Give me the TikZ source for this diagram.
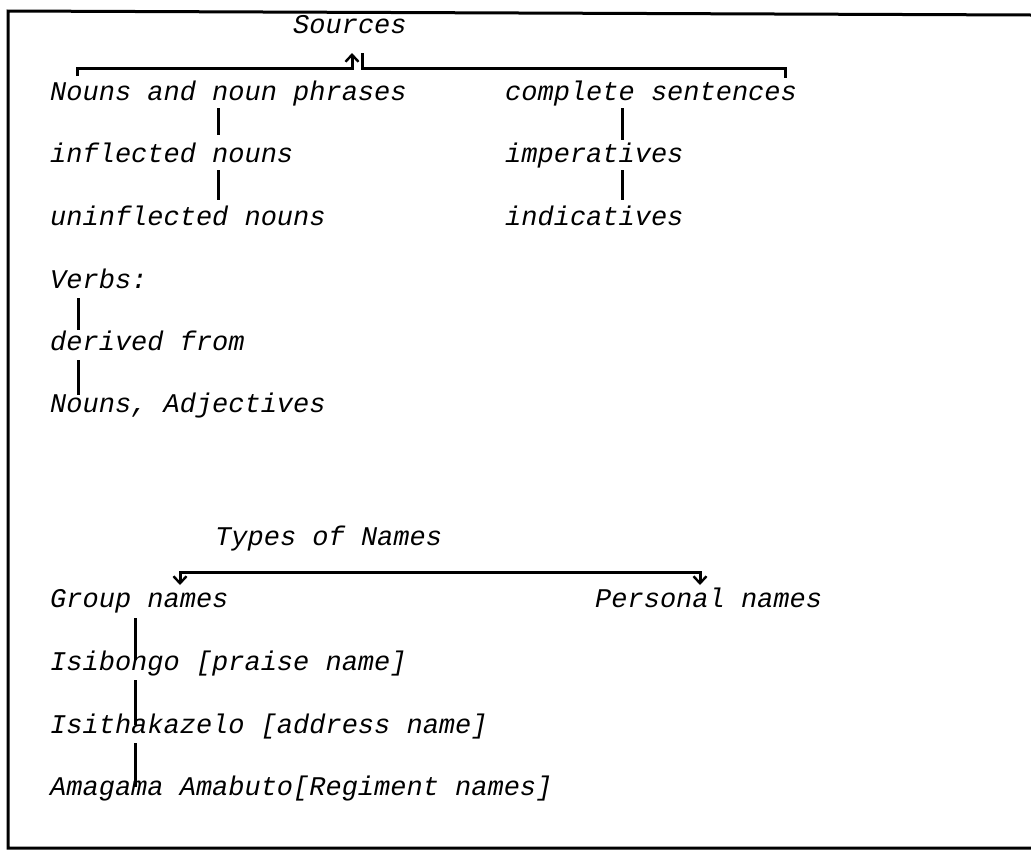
\documentclass[tikz,border=0pt]{standalone}
\usepackage{fontspec}
\setmonofont{Liberation Mono}
\usetikzlibrary{arrows.meta,calc}
\begin{document}
\begin{tikzpicture}[x=1pt,y=-1pt,
  txt/.style={anchor=base west,inner sep=0pt,font=\fontsize{27}{32}\selectfont\ttfamily\itshape},
  conn/.style={line width=3pt},
  frame/.style={line width=3pt},
  barb/.tip={Straight Barb[length=7pt,width=13pt,line width=2.4pt]},
  tip/.style={-barb}]
\useasboundingbox (0,0) rectangle (1031,852);
% frame
\draw[frame] (1031,15) -- (8,11) -- (8,848) -- (1031,848);
% top tree
\node[txt] (src) at (293,33) {Sources};
\node[txt] (nph) at (50,100) {Nouns and noun phrases};
\node[txt] (cs) at (505,100) {complete sentences};
\node[txt] (inf) at (50,162) {inflected nouns};
\node[txt] (imp) at (505,162) {imperatives};
\node[txt] (uninf) at (50,225) {uninflected nouns};
\node[txt] (ind) at (505,225) {indicatives};
\node[txt] (verbs) at (50,288) {Verbs:};
\node[txt] (der) at (50,350) {derived from};
\node[txt] (nadj) at (50,412) {Nouns, Adjectives};
% sources bracket
\coordinate (la) at ([shift={(27,-24)}]nph.base west);
\coordinate (ra) at ([shift={(280,-22)}]cs.base west);
\draw[conn,tip] (la) |- ([shift={(59,35)}]src.base west) -- ([shift={(59,20)}]src.base west);
\draw[conn] ([shift={(69,20)}]src.base west) -- ([shift={(69,35)}]src.base west) -| (ra);
% verticals
\draw[conn] ([shift={(168,8)}]nph.base west) -- ([shift={(168,-27)}]inf.base west);
\draw[conn] ([shift={(168,8)}]inf.base west) -- ([shift={(168,-25)}]uninf.base west);
\draw[conn] ([shift={(117,8)}]cs.base west) -- ([shift={(117,-22)}]imp.base west);
\draw[conn] ([shift={(117,8)}]imp.base west) -- ([shift={(117,-25)}]ind.base west);
\draw[conn] ([shift={(28,10)}]verbs.base west) -- ([shift={(28,-20)}]der.base west);
\draw[conn] ([shift={(28,10)}]der.base west) -- ([shift={(28,-17)}]nadj.base west);
% types of names
\node[txt] (types) at (215,545) {Types of Names};
\node[txt] (grp) at (50,607) {Group names};
\node[txt] (pers) at (595,607) {Personal names};
\node[txt] (isib) at (50,670) {Isibongo [praise name]};
\node[txt] (isit) at (50,733) {Isithakazelo [address name]};
\node[txt] (amag) at (50,795) {Amagama Amabuto[Regiment names]};
\coordinate (gt) at ([shift={(130,-22)}]grp.base west);
\coordinate (pt) at ([shift={(105,-22)}]pers.base west);
\draw[conn,barb-barb] (gt) -- ([yshift=13]gt) -| (pt);
\draw[conn] ([shift={(85,11)}]grp.base west) -- ([shift={(85,-10)}]isib.base west);
\draw[conn] ([shift={(85,10)}]isib.base west) -- ([shift={(85,-8)}]isit.base west);
\draw[conn] ([shift={(85,10)}]isit.base west) -- ([shift={(85,-8)}]amag.base west);
\end{tikzpicture}
\end{document}
